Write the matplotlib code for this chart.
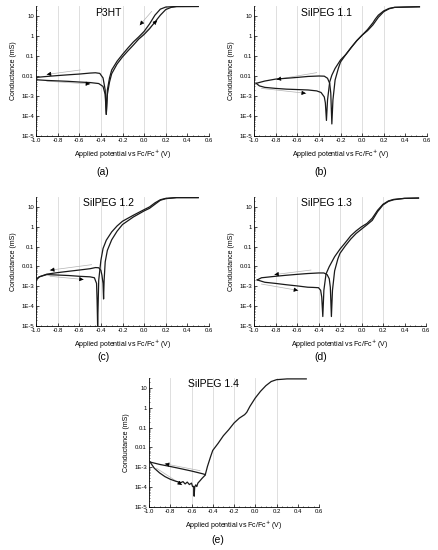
import numpy as np
import matplotlib
matplotlib.use('Agg')
import matplotlib.pyplot as plt
from matplotlib.ticker import MultipleLocator, LogLocator, NullFormatter

plt.rcParams['font.family'] = ['Liberation Sans', 'DejaVu Sans']

names = ['P3HT', 'SilPEG 1.1', 'SilPEG 1.2', 'SilPEG 1.3', 'SilPEG 1.4']
captions = ['(a)', '(b)', '(c)', '(d)', '(e)']

# each sample: forward branch (lower left + right curve), backward branch (upper left + right curve)
# P3HT
a_fx = [-1.0, -0.9, -0.8, -0.7, -0.6, -0.5, -0.42, -0.38, -0.36, -0.35,
        -0.34, -0.32, -0.3, -0.25, -0.2, -0.15, -0.1, -0.05, 0.0, 0.05, 0.1, 0.15, 0.2, 0.25, 0.3, 0.5]
a_fy = [0.0065, 0.006, 0.0057, 0.0054, 0.005, 0.0047, 0.0042, 0.003, 0.0012, 1.2e-4,
        0.0012, 0.005, 0.013, 0.04, 0.09, 0.18, 0.35, 0.7, 1.2, 2.3, 5, 11, 21, 27, 29.5, 30]
a_bx = [-1.0, -0.9, -0.8, -0.7, -0.6, -0.5, -0.45, -0.41, -0.38, -0.36, -0.35,
        -0.34, -0.32, -0.3, -0.25, -0.2, -0.15, -0.1, -0.05, 0.0, 0.05, 0.1, 0.15, 0.2, 0.3, 0.5]
a_by = [0.0085, 0.0095, 0.0105, 0.0115, 0.0125, 0.014, 0.0145, 0.0135, 0.008, 0.002, 1.2e-4,
        0.002, 0.008, 0.02, 0.055, 0.12, 0.25, 0.5, 0.9, 1.7, 4, 11, 22, 28, 30, 30]

# SilPEG 1.1
b_fx = [-0.98, -0.95, -0.9, -0.8, -0.7, -0.6, -0.5, -0.42, -0.38, -0.35, -0.34, -0.33,
        -0.32, -0.3, -0.28, -0.25, -0.2, -0.15, -0.1, -0.05, 0.0, 0.05, 0.1, 0.12, 0.15, 0.2, 0.25, 0.3, 0.4, 0.53]
b_fy = [0.0043, 0.0032, 0.0027, 0.0024, 0.0022, 0.0021, 0.002, 0.0018, 0.0015, 9e-4, 4.5e-4, 6e-5,
        6.3e-4, 0.005, 0.011, 0.024, 0.063, 0.12, 0.27, 0.58, 1.1, 2.1, 4.6, 6.8, 11, 18, 24, 27, 28, 29]
b_bx = [-0.98, -0.9, -0.8, -0.7, -0.6, -0.5, -0.4, -0.35, -0.32, -0.3, -0.29, -0.28,
        -0.27, -0.25, -0.22, -0.2, -0.15, -0.1, -0.05, 0.0, 0.05, 0.1, 0.15, 0.2, 0.25, 0.3, 0.4, 0.53]
b_by = [0.0043, 0.0056, 0.007, 0.0077, 0.0085, 0.0095, 0.01, 0.0098, 0.0077, 0.0043, 0.0014, 4e-5,
        6.3e-4, 0.0063, 0.024, 0.05, 0.12, 0.27, 0.58, 1.1, 1.85, 3.6, 8.6, 16.5, 23, 27, 28, 29]

# SilPEG 1.2
c_fx = [-1.0, -0.97, -0.9, -0.8, -0.7, -0.6, -0.5, -0.46, -0.44, -0.435, -0.43,
        -0.42, -0.4, -0.38, -0.35, -0.3, -0.25, -0.2, -0.1, 0.0, 0.05, 0.1, 0.15, 0.2, 0.3, 0.5]
c_fy = [0.0022, 0.003, 0.0039, 0.0037, 0.0035, 0.0032, 0.003, 0.0027, 0.0014, 2e-4, 1e-5,
        0.002, 0.02, 0.08, 0.21, 0.55, 1.1, 1.9, 3.8, 7.3, 10, 16, 23, 27, 29.5, 29.5]
c_bx = [-1.0, -0.97, -0.9, -0.8, -0.7, -0.6, -0.5, -0.45, -0.42, -0.4, -0.39, -0.38, -0.375,
        -0.37, -0.36, -0.34, -0.3, -0.25, -0.2, -0.1, 0.0, 0.05, 0.1, 0.15, 0.2, 0.3, 0.5]
c_by = [0.002, 0.003, 0.0041, 0.0049, 0.0057, 0.0066, 0.0077, 0.0088, 0.0086, 0.0064, 0.0036, 0.0014, 2.3e-4,
        0.002, 0.017, 0.065, 0.22, 0.6, 1.3, 3.1, 6.3, 8.5, 13.6, 21.7, 26, 29.5, 29.5]

# SilPEG 1.3
d_fx = [-0.97, -0.93, -0.9, -0.8, -0.7, -0.6, -0.5, -0.45, -0.4, -0.38, -0.37, -0.36,
        -0.35, -0.33, -0.3, -0.25, -0.2, -0.15, -0.1, -0.05, 0.0, 0.05, 0.1, 0.15, 0.2, 0.25, 0.3, 0.4, 0.53]
d_fy = [0.0021, 0.0018, 0.0016, 0.0014, 0.0012, 0.00105, 9e-4, 8.8e-4, 8.5e-4, 6.3e-4, 2.9e-4, 3e-5,
        6.3e-4, 0.0042, 0.0098, 0.031, 0.075, 0.16, 0.35, 0.62, 1.0, 1.46, 2.7, 6.8, 13.6, 20, 24, 27, 28]
d_bx = [-0.97, -0.93, -0.9, -0.8, -0.7, -0.6, -0.5, -0.4, -0.35, -0.32, -0.3, -0.29, -0.28,
        -0.27, -0.25, -0.22, -0.2, -0.15, -0.1, -0.05, 0.0, 0.05, 0.1, 0.15, 0.2, 0.25, 0.3, 0.4, 0.53]
d_by = [0.0021, 0.0027, 0.0028, 0.0032, 0.0036, 0.004, 0.0044, 0.0047, 0.0047, 0.0039, 0.0024, 9e-4, 3e-5,
        6.3e-4, 0.006, 0.024, 0.046, 0.11, 0.24, 0.46, 0.76, 1.25, 2.1, 5.8, 12.6, 19, 23, 27, 28]

# SilPEG 1.4 (noisy forward branch)
e_fx = [-1.0, -0.95, -0.9, -0.85, -0.8, -0.75, -0.7, -0.68, -0.66, -0.64, -0.62, -0.6, -0.59,
        -0.58, -0.575, -0.57, -0.56, -0.55, -0.54, -0.52, -0.5, -0.47]
e_fy = [0.0022, 9e-4, 5.2e-4, 3.4e-4, 2.5e-4, 2e-4, 1.7e-4, 1.9e-4, 1.45e-4, 1.8e-4, 1.35e-4, 1.6e-4, 1.07e-4,
        1.1e-4, 3.5e-5, 1.0e-4, 1.3e-4, 1.07e-4, 1.6e-4, 2.1e-4, 2.8e-4, 4.1e-4]
e_bx = [-1.0, -0.9, -0.8, -0.7, -0.6, -0.5, -0.47, -0.45, -0.42, -0.4, -0.35, -0.3, -0.25, -0.2,
        -0.15, -0.1, -0.08, -0.05, 0.0, 0.05, 0.1, 0.15, 0.2, 0.3, 0.48]
e_by = [0.0019, 0.0014, 0.0011, 8.5e-4, 6.5e-4, 4.8e-4, 4.3e-4, 0.0011, 0.0035, 0.0071, 0.016, 0.039, 0.078, 0.17,
        0.3, 0.45, 0.59, 1.18, 3.1, 6.8, 13, 21, 26, 28.5, 28.5]

fwd_x = [a_fx, b_fx, c_fx, d_fx, e_fx]
fwd_y = [a_fy, b_fy, c_fy, d_fy, e_fy]
bwd_x = [a_bx, b_bx, c_bx, d_bx, e_bx]
bwd_y = [a_by, b_by, c_by, d_by, e_by]

# sweep arrows (tail x, tail y, head x, head y)
arrows = [
    [(-0.59, 0.02, -0.9, 0.012), (-0.9, 0.0055, -0.5, 0.004), (0.07, 17, -0.04, 3.5), (-0.07, 0.6, 0.12, 6)],
    [(-0.42, 0.0147, -0.79, 0.0068), (-0.93, 0.0024, -0.52, 0.00136)],
    [(-0.486, 0.0123, -0.87, 0.0065), (-0.87, 0.0032, -0.56, 0.0022)],
    [(-0.47, 0.0066, -0.81, 0.0039), (-0.93, 0.0013, -0.59, 6.2e-4)],
    [(-0.52, 6.8e-4, -0.85, 0.0015), (-0.93, 9e-4, -0.69, 1.3e-4)],
]

yticks = [1e-5, 1e-4, 1e-3, 1e-2, 1e-1, 1, 10]
ylabels = ['1E-5', '1E-4', '1E-3', '0.01', '0.1', '1', '10']
xticks = [-1.0, -0.8, -0.6, -0.4, -0.2, 0.0, 0.2, 0.4, 0.6]

W, H = 438, 550
# axes boxes in pixels: left, top, right, bottom
boxes = [(36, 6, 209, 136), (254, 6, 427, 136),
         (36, 197, 209, 326), (254, 197, 426, 326),
         (149, 378, 319, 507)]
title_x = [0.42, 0.42, 0.42, 0.42, 0.38]
cap_pos = [(103, 172), (321, 172), (103, 357), (321, 357), (218, 540)]

fig = plt.figure(figsize=(W / 100, H / 100), dpi=100)

for i in range(5):
    l, t, r, b = boxes[i]
    ax = fig.add_axes([l / W, 1 - b / H, (r - l) / W, (b - t) / H])
    ax.set_yscale('log')
    ax.set_xlim(-1.0, 0.6)
    ax.set_ylim(1e-5, 10 ** 1.5)
    for gx in xticks[1:-2]:
        ax.axvline(gx, color='0.85', lw=0.6, zorder=0)
    ax.plot(fwd_x[i], fwd_y[i], color='0.1', lw=0.9, zorder=3)
    ax.plot(bwd_x[i], bwd_y[i], color='0.1', lw=0.9, zorder=3)
    for (x0, y0, x1, y1) in arrows[i]:
        ax.plot([x0, x1], [y0, y1], color='0.7', lw=0.5, zorder=2)
        # small black head at the end of the gray line
        xs = x1 + (x0 - x1) * 0.08
        ys = 10 ** (np.log10(y1) + (np.log10(y0) - np.log10(y1)) * 0.08)
        ax.annotate('', xy=(x1, y1), xytext=(xs, ys),
                    arrowprops=dict(arrowstyle='-|>,head_length=0.5,head_width=0.25',
                                    mutation_scale=5, color='black', lw=0.4,
                                    shrinkA=0, shrinkB=0), zorder=4)
    ax.set_xticks(xticks)
    ax.set_xticklabels(['%.1f' % v for v in xticks])
    ax.xaxis.set_minor_locator(MultipleLocator(0.05))
    ax.set_yticks(yticks)
    ax.set_yticklabels(ylabels)
    ax.yaxis.set_minor_locator(LogLocator(base=10, subs=np.arange(2, 10) * 1.0, numticks=20))
    ax.yaxis.set_minor_formatter(NullFormatter())
    ax.tick_params(axis='both', which='major', labelsize=4.3, length=2, width=0.5, pad=1.5, direction='in')
    ax.tick_params(axis='both', which='minor', length=1, width=0.4, direction='in')
    for s in ['top', 'right']:
        ax.spines[s].set_visible(False)
    for s in ['left', 'bottom']:
        ax.spines[s].set_linewidth(0.6)
    ax.set_xlabel('Applied potential vs Fc/Fc$^{+}$ (V)', fontsize=5, labelpad=4)
    ax.set_ylabel('Conductance (mS)', fontsize=5, labelpad=3)
    ax.text(title_x[i], 0.95, names[i], transform=ax.transAxes, ha='center', va='center', fontsize=7.5)
    cx, cy = cap_pos[i]
    fig.text(cx / W, 1 - cy / H, captions[i], ha='center', va='center', fontsize=7.5)

fig.savefig('out.png', dpi=100)
